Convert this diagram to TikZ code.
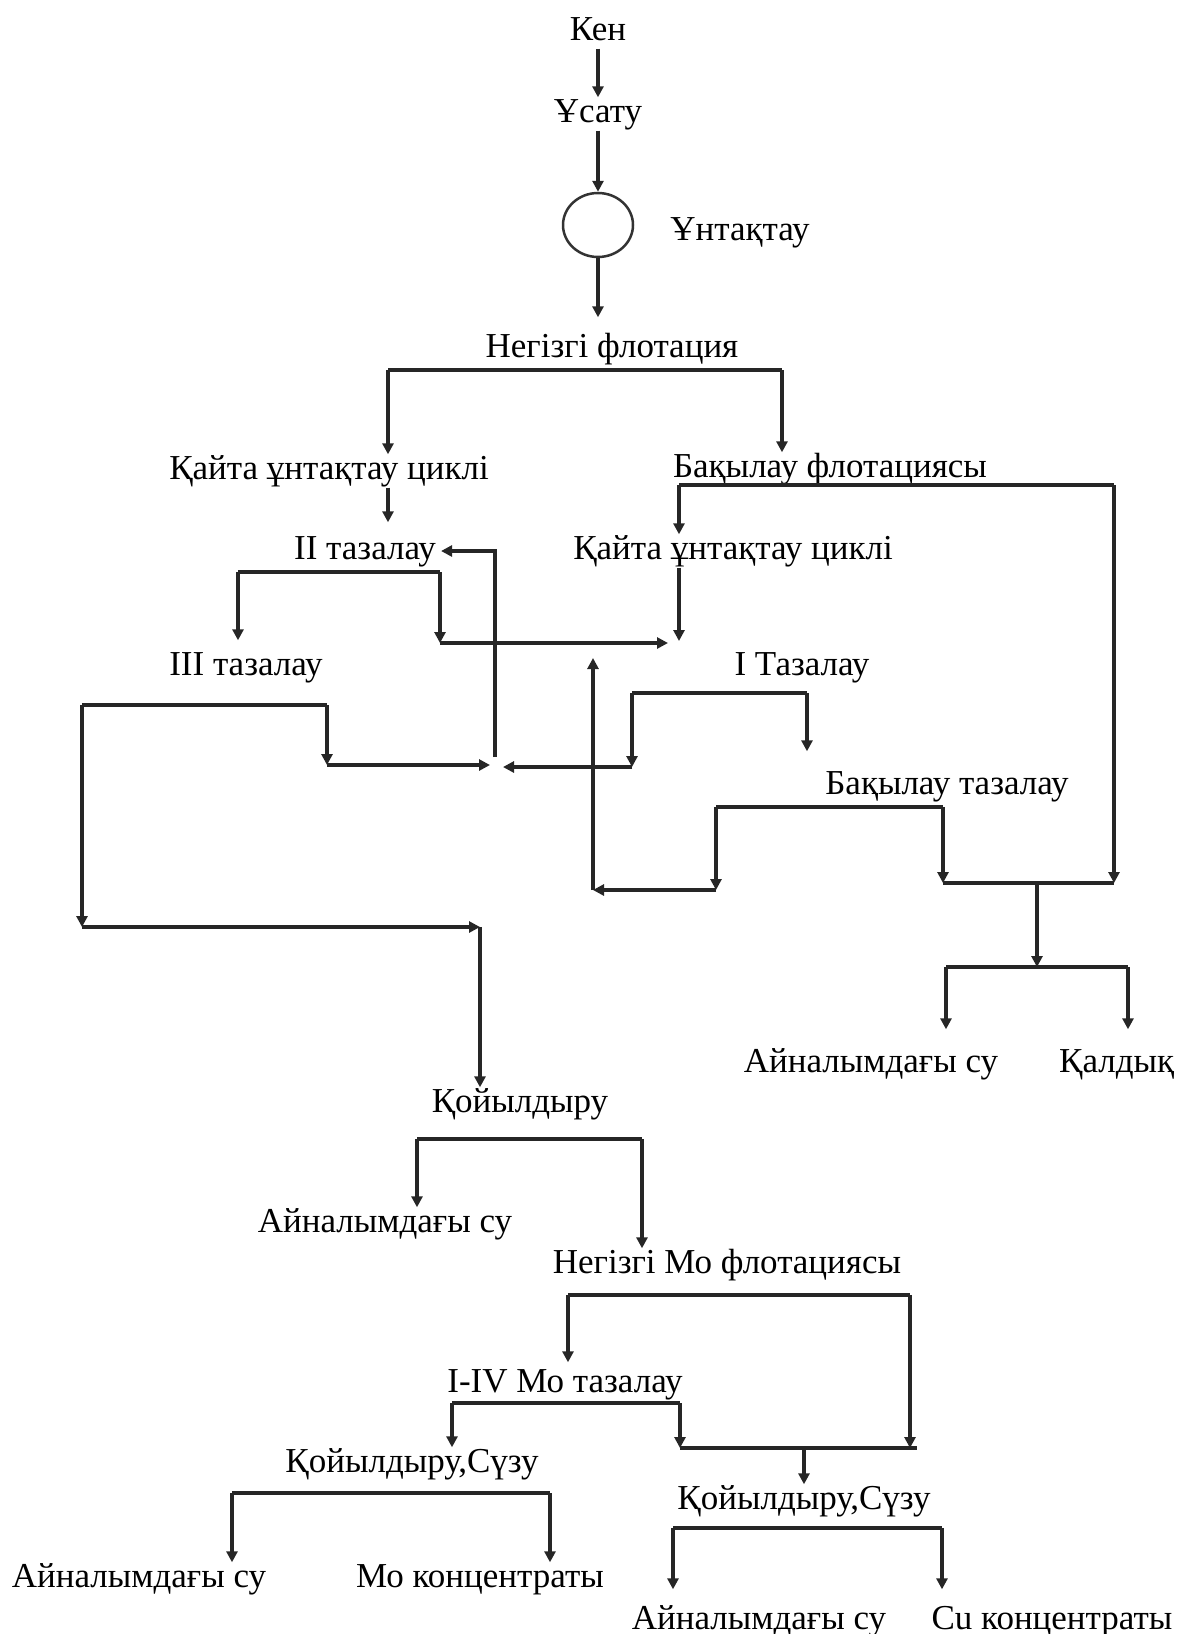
\documentclass[tikz,border=0pt]{standalone}
\usepackage{fontspec}
\setmainfont{Liberation Serif}
\usetikzlibrary{arrows.meta,shapes.geometric}

\tikzset{
  lbl/.style={font=\fontsize{35}{40}\selectfont, inner sep=1pt, text height=24pt, text depth=7pt, yshift=-4pt},
  wire/.style={color=black!85, line width=3.5},
  flow/.style={wire, -{Triangle[length=11pt,width=11pt]}},
  gapped/.style={shorten >=15pt},
}

\begin{document}
\begin{tikzpicture}[x=1pt,y=-1pt]
  \useasboundingbox (0,0) rectangle (1178,1634);
  % stages
  \node[lbl] (ken) at (598,28) {Кен};
  \node[lbl] (usatu) at (598,110) {Ұсату};
  \node[draw=black!80, line width=2.5, ellipse, minimum width=70, minimum height=64] (mill) at (598,225) {};
  \node[lbl] (untaktau) at (740,228) {Ұнтақтау};
  \node[lbl] (negiz) at (612,345) {Негізгі флотация};
  \node[lbl] (kaita1) at (329,467) {Қайта ұнтақтау циклі};
  \node[lbl] (bakflot) at (830,465) {Бақылау флотациясы};
  \node[lbl] (taz2) at (365,547) {II тазалау};
  \node[lbl] (kaita2) at (733,547) {Қайта ұнтақтау циклі};
  \node[lbl] (taz3) at (246,663) {III тазалау};
  \node[lbl] (taz1) at (802,663) {I Тазалау};
  \node[lbl] (baktaz) at (947,782) {Бақылау тазалау};
  \node[lbl] (su1) at (871,1060) {Айналымдағы су};
  \node[lbl, anchor=west] (kaldyk) at (1058,1060) {Қалдық};
  \node[lbl] (koiyl) at (520,1100) {Қойылдыру};
  \node[lbl] (su2) at (385,1220) {Айналымдағы су};
  \node[lbl] (moflot) at (727,1261) {Негізгі Мо флотациясы};
  \node[lbl] (motaz) at (565,1380) {I-IV Мо тазалау};
  \node[lbl] (suzu1) at (412,1460) {Қойылдыру,Сүзу};
  \node[lbl] (suzu2) at (804,1497) {Қойылдыру,Сүзу};
  \node[lbl] (su3) at (139,1575) {Айналымдағы су};
  \node[lbl] (moconc) at (480,1575) {Мо концентраты};
  \node[lbl] (su4) at (759,1617) {Айналымдағы су};
  \node[lbl] (cuconc) at (1052,1617) {Cu концентраты};

  % junction points
  \coordinate (nf1) at (388,370);  \coordinate (nf2) at (782,370);
  \coordinate (bf1) at (679,485);  \coordinate (bf2) at (1114,485);
  \coordinate (k2) at (679,641);   \coordinate (c2) at (668,643);
  \coordinate (t2a) at (238,572);  \coordinate (t2b) at (440,572);
  \coordinate (t2c) at (440,643);
  \coordinate (t3a) at (82,705);   \coordinate (t3b) at (327,705);
  \coordinate (t3c) at (327,765);  \coordinate (t3d) at (82,927);
  \coordinate (t3e) at (480,927);
  \coordinate (rc1) at (490,765);  \coordinate (rc2) at (503,767);
  \coordinate (rr) at (495,757);
  \coordinate (t1a) at (632,693);  \coordinate (t1b) at (807,693);
  \coordinate (t1c) at (632,767);
  \coordinate (up1) at (593,890);  \coordinate (up2) at (593,658);
  \coordinate (bt1) at (716,807);  \coordinate (bt2) at (943,807);
  \coordinate (bt3) at (716,890);  \coordinate (bt4) at (943,883);
  \coordinate (tl) at (1114,883);  \coordinate (tm) at (1037,883);
  \coordinate (ts) at (1037,967);
  \coordinate (ta) at (946,967);   \coordinate (tb) at (1128,967);
  \coordinate (ko1) at (417,1139); \coordinate (ko2) at (642,1139);
  \coordinate (mf1) at (568,1295); \coordinate (mf2) at (910,1295);
  \coordinate (mt1) at (452,1403); \coordinate (mt2) at (680,1403);
  \coordinate (mj1) at (680,1448); \coordinate (mj2) at (917,1448);
  \coordinate (mjm) at (804,1448);
  \coordinate (s1a) at (232,1493); \coordinate (s1b) at (550,1493);
  \coordinate (s2a) at (673,1528); \coordinate (s2b) at (942,1528);

  % grinding line
  \draw[flow] (ken) -- (usatu);
  \draw[flow] (usatu) -- (mill);
  \draw[flow, gapped] (mill) -- (mill |- negiz.north);
  \draw[wire] (nf1) -- (nf2);
  \draw[flow] (nf1) -- (nf1 |- kaita1.north);
  \draw[flow] (nf2) -- (nf2 |- bakflot.north);
  \draw[flow, shorten >=12pt] (nf1 |- kaita1.south) -- (nf1 |- taz2.north);

  % control flotation
  \draw[wire] (bf1) -- (bf2);
  \draw[flow] (bf1) -- (bf1 |- kaita2.north);
  \draw[flow] (bf2) -- (tl);
  \draw[flow] (bf1 |- kaita2.south) -- (k2);

  % cleanings
  \draw[wire] (t2a) -- (t2b);
  \draw[flow, shorten >=10pt] (t2a) -- (t2a |- taz3.north);
  \draw[flow] (t2b) -- (t2c);
  \draw[flow] (t2c) -- (c2);
  \draw[wire] (t3a) -- (t3b);
  \draw[flow] (t3b) -- (t3c);
  \draw[flow] (t3c) -- (rc1);
  \draw[flow, shorten >=4pt] (rr) |- (taz2.east);
  \draw[flow] (t3a) -- (t3d);
  \draw[flow] (t3d) -- (t3e);
  \draw[flow] (t3e) -- (t3e |- koiyl.north);
  \draw[wire] (t1a) -- (t1b);
  \draw[flow] (t1a) -- (t1c);
  \draw[flow] (t1c) -- (rc2);
  \draw[flow, shorten >=18pt] (t1b) -- (t1b |- baktaz.north);
  \draw[wire] (bt1) -- (bt2);
  \draw[flow] (bt1) -- (bt3);
  \draw[flow] (bt3) -- (up1);
  \draw[flow] (up1) -- (up2);
  \draw[flow] (bt2) -- (bt4);
  \draw[wire] (bt4) -- (tl);

  % tailings
  \draw[flow] (tm) -- (ts);
  \draw[wire] (ta) -- (tb);
  \draw[flow, shorten >=18pt] (ta) -- (ta |- su1.north);
  \draw[flow, shorten >=18pt] (tb) -- (tb |- kaldyk.north);

  % Mo section
  \draw[wire] (ko1) -- (ko2);
  \draw[flow] (ko1) -- (ko1 |- su2.north);
  \draw[flow] (ko2) -- (ko2 |- moflot.north);
  \draw[wire] (mf1) -- (mf2);
  \draw[flow, shorten >=5pt] (mf1) -- (mf1 |- motaz.north);
  \draw[flow] (mf2) -- (mf2 |- mj1);
  \draw[wire] (mt1) -- (mt2);
  \draw[flow] (mt1) -- (mt1 |- suzu1.north);
  \draw[flow] (mt2) -- (mj1);
  \draw[wire] (mj1) -- (mj2);
  \draw[flow] (mjm) -- (mjm |- suzu2.north);
  \draw[wire] (s1a) -- (s1b);
  \draw[flow] (s1a) -- (s1a |- su3.north);
  \draw[flow] (s1b) -- (s1b |- moconc.north);
  \draw[wire] (s2a) -- (s2b);
  \draw[flow, gapped] (s2a) -- (s2a |- su4.north);
  \draw[flow, gapped] (s2b) -- (s2b |- cuconc.north);
\end{tikzpicture}
\end{document}
